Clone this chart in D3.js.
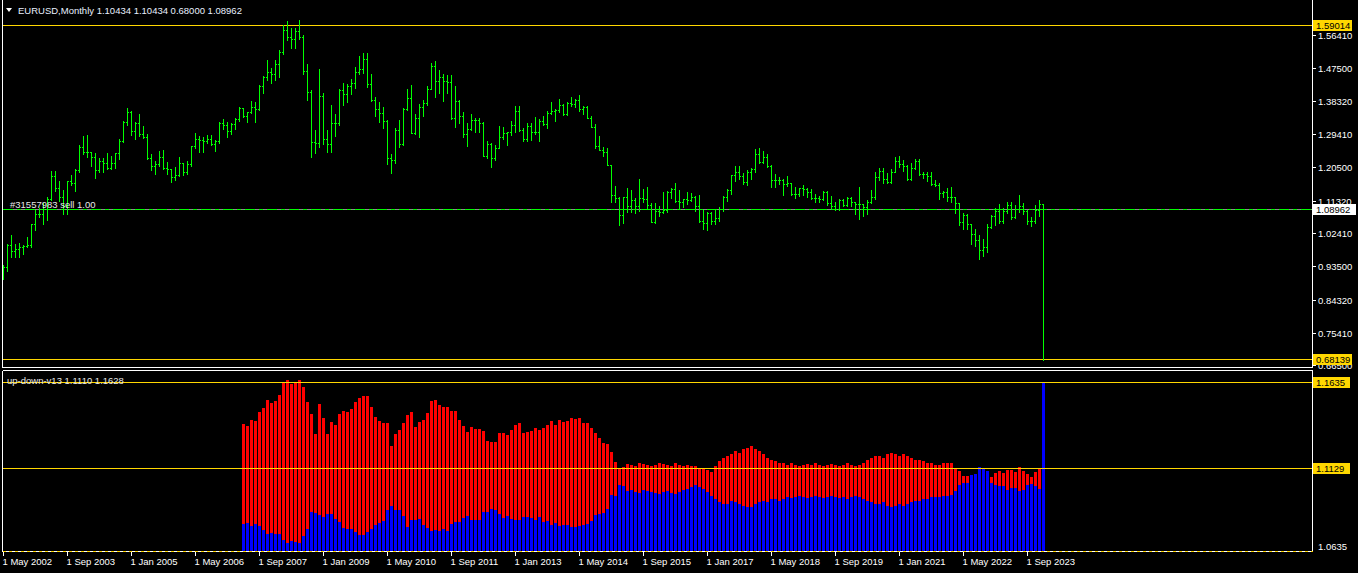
<!DOCTYPE html>
<html><head><meta charset="utf-8">
<script src="https://cdn.jsdelivr.net/npm/d3@7/dist/d3.min.js"></script>
<style>
html,body{margin:0;padding:0;background:#000;overflow:hidden}
svg{display:block}
text{font-family:"Liberation Sans",Arial,sans-serif;}
</style></head><body>
<svg id="c" width="1358" height="573"></svg>
<script>
// ---------- DATA ----------
const symbolTitle = "EURUSD,Monthly";
const titleValues = "1.10434 1.10434 0.68000 1.08962";
const indicatorTitle = "up-down-v13 1.1110 1.1628";
const orderText = "#31557983 sell 1.00";
const firstMonth = {year: 2002, month: 4}; // May 2002

// Monthly OHLC, May 2002 .. Jan 2024
const opens = [
 0.9015,0.9335,0.9915,0.9775,0.9810,0.9865,0.9890,0.9935,
 1.0485,1.0765,1.0780,1.0910,1.1170,1.1810,1.1490,1.1245,1.0985,1.1660,1.1610,1.1975,
 1.2595,1.2460,1.2460,1.2315,1.1970,1.2200,1.2170,1.2020,1.2170,1.2420,1.2770,1.3265,
 1.3555,1.3040,1.3250,1.2960,1.2870,1.2290,1.2090,1.2120,1.2330,1.2030,1.1990,1.1790,
 1.1840,1.2155,1.1920,1.2120,1.2620,1.2815,1.2780,1.2770,1.2810,1.2670,1.2760,1.3255,
 1.3195,1.3025,1.3225,1.3355,1.3650,1.3450,1.3540,1.3685,1.3635,1.4265,1.4490,1.4640,
 1.4590,1.4860,1.5185,1.5790,1.5590,1.5545,1.5750,1.5600,1.4675,1.4085,1.2730,1.2705,
 1.3970,1.2800,1.2670,1.3250,1.3235,1.4150,1.4035,1.4255,1.4340,1.4640,1.4715,1.5000,
 1.4320,1.3865,1.3625,1.3510,1.3295,1.2290,1.2235,1.3050,1.2680,1.3620,1.3935,1.2985,
 1.3370,1.3690,1.3800,1.4170,1.4810,1.4380,1.4500,1.4390,1.4360,1.3390,1.3850,1.3450,
 1.2960,1.3090,1.3320,1.3340,1.3240,1.2360,1.2665,1.2300,1.2575,1.2855,1.2970,1.2990,
 1.3190,1.3580,1.3060,1.2820,1.3170,1.3000,1.3010,1.3300,1.3220,1.3525,1.3580,1.3590,
 1.3750,1.3485,1.3800,1.3770,1.3870,1.3635,1.3690,1.3390,1.3130,1.2630,1.2525,1.2450,
 1.2100,1.1290,1.1195,1.0730,1.1220,1.0985,1.1145,1.0985,1.1210,1.1175,1.1005,1.0565,
 1.0860,1.0830,1.0870,1.1380,1.1450,1.1130,1.1105,1.1175,1.1155,1.1240,1.0980,1.0590,
 1.0520,1.0800,1.0575,1.0650,1.0895,1.1240,1.1425,1.1840,1.1910,1.1815,1.1645,1.1900,
 1.2000,1.2415,1.2195,1.2320,1.2080,1.1690,1.1685,1.1690,1.1600,1.1605,1.1310,1.1320,
 1.1465,1.1445,1.1370,1.1215,1.1215,1.1170,1.1370,1.1075,1.0985,1.0900,1.1150,1.1015,
 1.1215,1.1090,1.1030,1.1030,1.0955,1.1100,1.1235,1.1780,1.1935,1.1720,1.1645,1.1925,
 1.2215,1.2135,1.2075,1.1730,1.2020,1.2225,1.1860,1.1870,1.1810,1.1580,1.1560,1.1335,
 1.1370,1.1235,1.1220,1.1065,1.0545,1.0735,1.0485,1.0220,1.0055,0.9800,0.9880,1.0405,
 1.0705,1.0865,1.0575,1.0840,1.1020,1.0690,1.0910,1.1000,1.0845,1.0575,1.0575,1.0885,
 1.10434];
const highs = [
 0.9375,0.9950,1.0190,0.9955,0.9980,0.9935,1.0140,1.0500,
 1.0880,1.0935,1.1080,1.1230,1.1930,1.1935,1.1675,1.1430,1.1680,1.1840,1.1995,1.2650,
 1.2900,1.2930,1.2470,1.2430,1.2285,1.2300,1.2430,1.2345,1.2440,1.2815,1.3290,1.3665,
 1.3570,1.3280,1.3480,1.3170,1.2960,1.2390,1.2215,1.2475,1.2500,1.2180,1.2000,1.2040,
 1.2325,1.2160,1.2205,1.2625,1.2980,1.2880,1.2860,1.2910,1.2930,1.2775,1.3280,1.3365,
 1.3275,1.3250,1.3390,1.3680,1.3650,1.3545,1.3850,1.3815,1.4285,1.4530,1.4965,1.4755,
 1.4965,1.5240,1.5905,1.6020,1.5820,1.5845,1.6040,1.5630,1.4865,1.4150,1.3060,1.4720,
 1.4060,1.3050,1.3740,1.3485,1.4160,1.4340,1.4305,1.4445,1.4775,1.5065,1.5145,1.5140,
 1.4580,1.3960,1.3820,1.3690,1.3335,1.2410,1.3110,1.3335,1.3665,1.4160,1.4285,1.3500,
 1.3760,1.3860,1.4250,1.4880,1.4940,1.4700,1.4580,1.4550,1.4550,1.4250,1.3875,1.3550,
 1.3235,1.3490,1.3385,1.3380,1.3285,1.2745,1.2690,1.2640,1.3170,1.3140,1.3010,1.3310,
 1.3710,1.3710,1.3110,1.3245,1.3245,1.3415,1.3345,1.3450,1.3570,1.3830,1.3620,1.3895,
 1.3775,1.3825,1.3965,1.3905,1.3995,1.3700,1.3700,1.3445,1.3220,1.2885,1.2600,1.2570,
 1.2105,1.1535,1.1245,1.1225,1.1465,1.1435,1.1215,1.1715,1.1460,1.1495,1.1060,1.1060,
 1.0985,1.1375,1.1410,1.1465,1.1615,1.1430,1.1185,1.1365,1.1330,1.1255,1.1300,1.0875,
 1.0830,1.0830,1.0905,1.0950,1.1265,1.1445,1.1845,1.2070,1.2090,1.1880,1.1960,1.2025,
 1.2535,1.2555,1.2475,1.2415,1.2095,1.1850,1.1790,1.1735,1.1815,1.1625,1.1500,1.1485,
 1.1570,1.1490,1.1450,1.1325,1.1265,1.1410,1.1410,1.1250,1.1110,1.1180,1.1180,1.1240,
 1.1240,1.1095,1.1500,1.1035,1.1155,1.1425,1.1910,1.2010,1.2010,1.1880,1.2005,1.2310,
 1.2350,1.2245,1.2115,1.2150,1.2265,1.2255,1.1910,1.1910,1.1910,1.1695,1.1615,1.1385,
 1.1485,1.1495,1.1235,1.1075,1.0785,1.0775,1.0485,1.0370,1.0200,1.0095,1.0500,1.0735,
 1.0930,1.1035,1.0930,1.1095,1.1095,1.1010,1.1275,1.1065,1.0880,1.0695,1.1015,1.1140,
 1.10434];
const lows = [
 0.8995,0.9215,0.9605,0.9590,0.9610,0.9685,0.9860,0.9860,
 1.0335,1.0690,1.0500,1.0610,1.1150,1.1410,1.1130,1.0765,1.0760,1.1550,1.1410,1.1920,
 1.2390,1.2320,1.2090,1.1760,1.1900,1.1910,1.1990,1.2000,1.2010,1.2260,1.2730,1.3195,
 1.2930,1.2800,1.2880,1.2850,1.2280,1.1955,1.1870,1.2090,1.1985,1.1870,1.1640,1.1705,
 1.1800,1.1830,1.1860,1.2065,1.2580,1.2460,1.2455,1.2715,1.2660,1.2480,1.2700,1.3095,
 1.2865,1.2955,1.3075,1.3290,1.3405,1.3265,1.3525,1.3265,1.3590,1.4075,1.4430,1.4345,
 1.4410,1.4505,1.5125,1.5510,1.5285,1.5300,1.5545,1.4575,1.3880,1.2330,1.2425,1.2605,
 1.2665,1.2455,1.2460,1.2885,1.3180,1.3745,1.3830,1.4045,1.4205,1.4575,1.4615,1.4220,
 1.3855,1.3435,1.3265,1.3115,1.2140,1.1875,1.2155,1.2590,1.2645,1.3600,1.2970,1.2960,
 1.2860,1.3430,1.3750,1.4160,1.3965,1.4050,1.3840,1.4050,1.3360,1.3145,1.3240,1.2855,
 1.2625,1.3060,1.3000,1.3000,1.2355,1.2290,1.2040,1.2240,1.2560,1.2800,1.2660,1.2925,
 1.3000,1.3030,1.2750,1.2745,1.2795,1.2960,1.2755,1.3185,1.3105,1.3480,1.3295,1.3550,
 1.3475,1.3475,1.3705,1.3675,1.3585,1.3505,1.3370,1.3130,1.2570,1.2500,1.2360,1.2100,
 1.1100,1.1100,1.0460,1.0520,1.0820,1.0820,1.0810,1.0850,1.1105,1.0895,1.0560,1.0525,
 1.0710,1.0810,1.0820,1.1215,1.1100,1.0910,1.0950,1.1045,1.1120,1.0855,1.0565,1.0355,
 1.0340,1.0490,1.0495,1.0570,1.0840,1.1120,1.1310,1.1660,1.1715,1.1575,1.1555,1.1715,
 1.1915,1.2155,1.2155,1.2055,1.1510,1.1510,1.1575,1.1300,1.1525,1.1300,1.1215,1.1265,
 1.1290,1.1235,1.1175,1.1110,1.1105,1.1165,1.1025,1.0925,1.0880,1.0880,1.0980,1.0985,
 1.0990,1.0775,1.0635,1.0725,1.0765,1.1080,1.1185,1.1700,1.1610,1.1620,1.1605,1.1925,
 1.2055,1.1950,1.1705,1.1705,1.1985,1.1845,1.1750,1.1665,1.1565,1.1525,1.1185,1.1220,
 1.1120,1.1105,1.0805,1.0470,1.0350,1.0360,0.9950,0.9900,0.9535,0.9630,0.9730,1.0395,
 1.0480,1.0535,1.0515,1.0790,1.0635,1.0665,1.0835,1.0765,1.0490,1.0450,1.0515,1.0725,
 0.68000];
const closes = [
 0.9335,0.9915,0.9775,0.9810,0.9865,0.9890,0.9935,1.0485,
 1.0765,1.0780,1.0910,1.1170,1.1810,1.1490,1.1245,1.0985,1.1660,1.1610,1.1975,1.2595,
 1.2460,1.2460,1.2315,1.1970,1.2200,1.2170,1.2020,1.2170,1.2420,1.2770,1.3265,1.3555,
 1.3040,1.3250,1.2960,1.2870,1.2290,1.2090,1.2120,1.2330,1.2030,1.1990,1.1790,1.1840,
 1.2155,1.1920,1.2120,1.2620,1.2815,1.2780,1.2770,1.2810,1.2670,1.2760,1.3255,1.3195,
 1.3025,1.3225,1.3355,1.3650,1.3450,1.3540,1.3685,1.3635,1.4265,1.4490,1.4640,1.4590,
 1.4860,1.5185,1.5790,1.5590,1.5545,1.5750,1.5600,1.4675,1.4085,1.2730,1.2705,1.3970,
 1.2800,1.2670,1.3250,1.3235,1.4150,1.4035,1.4255,1.4340,1.4640,1.4715,1.5000,1.4320,
 1.3865,1.3625,1.3510,1.3295,1.2290,1.2235,1.3050,1.2680,1.3620,1.3935,1.2985,1.3370,
 1.3690,1.3800,1.4170,1.4810,1.4380,1.4500,1.4390,1.4360,1.3390,1.3850,1.3450,1.2960,
 1.3090,1.3320,1.3340,1.3240,1.2360,1.2665,1.2300,1.2575,1.2855,1.2970,1.2990,1.3190,
 1.3580,1.3060,1.2820,1.3170,1.3000,1.3010,1.3300,1.3220,1.3525,1.3580,1.3590,1.3750,
 1.3485,1.3800,1.3770,1.3870,1.3635,1.3690,1.3390,1.3130,1.2630,1.2525,1.2450,1.2100,
 1.1290,1.1195,1.0730,1.1220,1.0985,1.1145,1.0985,1.1210,1.1175,1.1005,1.0565,1.0860,
 1.0830,1.0870,1.1380,1.1450,1.1130,1.1105,1.1175,1.1155,1.1240,1.0980,1.0590,1.0520,
 1.0800,1.0575,1.0650,1.0895,1.1240,1.1425,1.1840,1.1910,1.1815,1.1645,1.1900,1.2000,
 1.2415,1.2195,1.2320,1.2080,1.1690,1.1685,1.1690,1.1600,1.1605,1.1310,1.1320,1.1465,
 1.1445,1.1370,1.1215,1.1215,1.1170,1.1370,1.1075,1.0985,1.0900,1.1150,1.1015,1.1215,
 1.1090,1.1030,1.1030,1.0955,1.1100,1.1235,1.1780,1.1935,1.1720,1.1645,1.1925,1.2215,
 1.2135,1.2075,1.1730,1.2020,1.2225,1.1860,1.1870,1.1810,1.1580,1.1560,1.1335,1.1370,
 1.1235,1.1220,1.1065,1.0545,1.0735,1.0485,1.0220,1.0055,0.9800,0.9880,1.0405,1.0705,
 1.0865,1.0575,1.0840,1.1020,1.0690,1.0910,1.1000,1.0845,1.0575,1.0575,1.0885,1.1043,
 1.08962];

// Indicator "up-down-v13": starts May 2007 (bar index 60)
const indicatorStart = 60;
const redValues = [
 1.1388,1.1376,1.1411,1.1405,1.1458,1.1481,1.1528,1.1511,1.1522,1.1557,1.1627,1.1645,1.1622,1.1627,1.1645,1.1604,
 1.1516,1.1446,1.1329,1.1505,1.1423,1.1329,1.1400,1.1382,1.1446,1.1464,1.1458,1.1476,1.1516,1.1540,1.1552,1.1552,
 1.1487,1.1429,1.1405,1.1394,1.1394,1.1259,1.1329,1.1353,1.1394,1.1441,1.1458,1.1370,1.1400,1.1411,1.1452,1.1522,
 1.1528,1.1499,1.1487,1.1487,1.1464,1.1464,1.1411,1.1376,1.1341,1.1370,1.1359,1.1359,1.1347,1.1289,1.1283,1.1283,
 1.1335,1.1335,1.1324,1.1353,1.1382,1.1394,1.1335,1.1341,1.1347,1.1365,1.1353,1.1365,1.1382,1.1405,1.1382,1.1411,
 1.1400,1.1405,1.1423,1.1417,1.1423,1.1394,1.1394,1.1365,1.1335,1.1306,1.1277,1.1271,1.1224,1.1166,1.1125,1.1137,
 1.1154,
 1.1150,1.1145,1.1160,1.1155,1.1150,1.1140,1.1150,1.1160,1.1155,1.1150,1.1145,1.1160,1.1150,1.1140,1.1150,1.1145,1.1140,1.1130,
 1.1130,1.1120,1.1110,1.1140,1.1170,1.1190,1.1200,1.1210,1.1230,1.1220,1.1240,
 1.1250,1.1260,1.1240,1.1230,1.1210,1.1190,1.1180,1.1170,1.1160,1.1160,
 1.1150,1.1160,1.1150,1.1145,1.1150,1.1155,1.1150,1.1160,1.1150,1.1145,1.1150,1.1155,1.1150,1.1145,1.1150,1.1160,1.1150,1.1145,1.1150,1.1160,
 1.1180,1.1190,1.1200,1.1200,1.1190,1.1210,1.1220,1.1210,1.1200,1.1210,1.1200,1.1190,1.1180,1.1180,1.1170,1.1160,1.1160,
 1.1150,1.1150,1.1160,1.1160,
 1.1158,1.1125,1.1113,1.1084,1.1084,1.1080,1.1085,1.1120,1.1110,1.1100,1.1078,1.1102,1.1113,1.1102,1.1121,1.1121,1.1109,1.1137,1.1113,1.1096,1.1078,1.1109,1.1125,1.1110];
const blueValues = [
 1.0806,1.0809,1.0794,1.0806,1.0794,1.0769,1.0747,1.0751,1.0747,1.0747,1.0710,1.0693,1.0704,1.0700,1.0693,1.0735,
 1.0774,1.0876,1.0868,1.0856,1.0845,1.0864,1.0864,1.0833,1.0817,1.0782,1.0774,1.0774,1.0759,1.0739,1.0739,1.0759,
 1.0774,1.0798,1.0809,1.0821,1.0887,1.0911,1.0887,1.0887,1.0852,1.0786,1.0829,1.0829,1.0833,1.0798,1.0782,1.0763,
 1.0771,1.0763,1.0774,1.0763,1.0806,1.0817,1.0817,1.0841,1.0852,1.0829,1.0829,1.0829,1.0876,1.0876,1.0891,1.0887,
 1.0864,1.0841,1.0852,1.0833,1.0829,1.0829,1.0845,1.0845,1.0841,1.0829,1.0845,1.0817,1.0821,1.0798,1.0809,1.0794,
 1.0798,1.0798,1.0786,1.0786,1.0794,1.0798,1.0806,1.0821,1.0856,1.0864,1.0868,1.0891,1.0973,1.0969,1.1032,1.1028,
 1.0996,
 1.1000,1.0990,1.0985,1.1000,1.0995,1.0990,1.0985,1.0980,1.0990,1.0995,1.0985,1.0980,1.0990,1.1000,1.1010,1.1020,1.1030,1.1020,
 1.1010,1.0990,1.0970,1.0950,1.0930,1.0920,1.0920,1.0940,1.0930,1.0920,1.0910,
 1.0900,1.0900,1.0920,1.0930,1.0940,1.0930,1.0950,1.0950,1.0940,1.0950,
 1.0960,1.0955,1.0960,1.0965,1.0960,1.0955,1.0960,1.0965,1.0960,1.0955,1.0960,1.0965,1.0960,1.0955,1.0960,1.0950,1.0960,1.0965,1.0960,1.0950,
 1.0940,1.0930,1.0920,1.0920,1.0930,1.0910,1.0900,1.0910,1.0920,1.0910,1.0920,1.0930,1.0940,1.0940,1.0950,1.0950,1.0960,
 1.0960,1.0960,1.0965,1.0970,
 1.0973,1.0996,1.1032,1.1043,1.1043,1.1090,1.1098,1.1135,1.1125,1.1113,1.1043,1.1032,1.1028,1.1028,1.1004,1.1016,1.1016,1.0996,1.1004,1.1032,1.1039,1.1028,1.1008,1.1628];

const priceTicks = [1.56410,1.47500,1.38320,1.29410,1.20500,1.11320,1.02410,0.93500,0.84320,0.75410,0.66500];
const hLevels = [1.59014, 0.68139];
const bidPrice = 1.08962;
const indLevels = [1.1635, 1.1129];
const indBottomLabel = "1.0635";
const timeLabelEvery = 16;
const monthNames = ["Jan","Feb","Mar","Apr","May","Jun","Jul","Aug","Sep","Oct","Nov","Dec"];

// ---------- CHART ----------
const svg = d3.select("#c");
const W = 1358, H = 573;
const GREEN = "#00ff00", GOLD = "#ffd700", AXIS = "#ffffff";
const mainTop = 0, mainBottom = 367.5, indTop = 370.5, indBottom = 551.5, left = 2.5, right = 1312.5;

svg.append("rect").attr("width", W).attr("height", H).attr("fill", "#000");

const n = closes.length;
const months = d3.range(n).map(i => {
  const m = firstMonth.month + i;
  return `1 ${monthNames[m % 12]} ${firstMonth.year + Math.floor(m / 12)}`;
});
const x = d3.scaleBand().domain(months).range([1.5, 1.5 + 4 * n]).padding(0);
const cx = i => x(months[i]) + 1.5; // pixel column of bar center

const y = d3.scaleLinear().domain([0.75410, 1.56410]).range([332.7, 35]);
const yi = d3.scaleLinear().domain([1.1129, 1.1635]).range([468.3, 381.7]);

svg.append("clipPath").attr("id", "mainClip").append("rect")
  .attr("x", 3).attr("y", 0).attr("width", 1309).attr("height", 367);
svg.append("clipPath").attr("id", "indClip").append("rect")
  .attr("x", 3).attr("y", 371).attr("width", 1309).attr("height", 180);

// --- main window ---
const gm = svg.append("g").attr("clip-path", "url(#mainClip)").attr("shape-rendering", "crispEdges");

gm.selectAll("line.lvl").data(hLevels).join("line")
  .attr("x1", left).attr("x2", right)
  .attr("y1", d => Math.round(y(d)) + 0.5).attr("y2", d => Math.round(y(d)) + 0.5)
  .attr("stroke", GOLD).attr("stroke-width", 1);

const yb = Math.round(y(bidPrice)) + 0.5;
gm.append("line").attr("x1", left).attr("x2", right).attr("y1", yb).attr("y2", yb)
  .attr("stroke", "#8c8c8c").attr("stroke-width", 1);
gm.append("line").attr("x1", left).attr("x2", right).attr("y1", yb).attr("y2", yb)
  .attr("stroke", GREEN).attr("stroke-width", 1).attr("stroke-dasharray", "10,4,4,4");

// OHLC bars
const bars = gm.append("g").attr("fill", GREEN);
d3.range(n).forEach(i => {
  const c = cx(i);
  const yh = Math.round(y(highs[i])), yl = Math.round(y(lows[i]));
  bars.append("rect").attr("x", c).attr("y", yh).attr("width", 1).attr("height", Math.max(1, yl - yh + 1));
  bars.append("rect").attr("x", c - 1).attr("y", Math.round(y(opens[i]))).attr("width", 1).attr("height", 1);
  bars.append("rect").attr("x", c + 1).attr("y", Math.round(y(closes[i]))).attr("width", 1).attr("height", 1);
});

svg.append("text").attr("x", 10).attr("y", 208).attr("fill", "#e8e8e8")
  .attr("font-size", "9.5px").text(orderText);

svg.append("path").attr("d", "M6,8 L12,8 L9,12 Z").attr("fill", "#fff");
svg.append("text").attr("x", 18).attr("y", 14).attr("fill", "#e8f0ff").attr("font-size", "9.5px")
  .text(symbolTitle + "  " + titleValues);

// frames
const fr = svg.append("g").attr("fill", "none").attr("stroke", AXIS).attr("stroke-width", 1).attr("shape-rendering", "crispEdges");
fr.append("path").attr("d", `M${left},${mainTop} V${mainBottom} H${right} V${mainTop}`);
fr.append("path").attr("d", `M${left},${indTop} H${right} V${indBottom} M${left},${indTop} V${indBottom}`);
fr.append("line").attr("x1", left).attr("x2", right).attr("y1", indBottom).attr("y2", indBottom);
svg.append("line").attr("x1", left).attr("x2", right).attr("y1", indBottom).attr("y2", indBottom)
  .attr("stroke", GOLD).attr("stroke-dasharray", "3,3").attr("shape-rendering", "crispEdges");

// price axis
const pa = svg.append("g").attr("font-size", "9.5px").attr("fill", AXIS);
priceTicks.forEach(p => {
  const yy = Math.round(y(p)) + 0.5;
  pa.append("line").attr("x1", 1313).attr("x2", 1316).attr("y1", yy).attr("y2", yy)
    .attr("stroke", AXIS).attr("shape-rendering", "crispEdges");
  pa.append("text").attr("x", 1318).attr("y", yy).attr("dy", "0.35em").text(p.toFixed(5));
});
function boxLabel(yy, txt, bg, w) {
  svg.append("rect").attr("x", 1313).attr("y", Math.round(yy) - 5).attr("width", w).attr("height", 11).attr("fill", bg);
  svg.append("text").attr("x", 1316).attr("y", Math.round(yy) + 0.5).attr("dy", "0.35em")
    .attr("font-size", "9.5px").attr("fill", "#000").text(txt);
}
hLevels.forEach(p => boxLabel(y(p), p.toFixed(5), GOLD, 39));
boxLabel(y(bidPrice), bidPrice.toFixed(5), "#ffffff", 43);

// --- indicator window ---
const gi = svg.append("g").attr("clip-path", "url(#indClip)").attr("shape-rendering", "crispEdges");
const indMonths = months.slice(indicatorStart);
gi.selectAll("rect.red").data(redValues).join("rect").attr("class", "red")
  .attr("x", (d, k) => x(indMonths[k]) + 0.5).attr("width", 3)
  .attr("y", d => Math.round(yi(d))).attr("height", d => 560 - Math.round(yi(d)))
  .attr("fill", "#ff0000");
gi.selectAll("rect.blue").data(blueValues).join("rect").attr("class", "blue")
  .attr("x", (d, k) => x(indMonths[k]) + 0.5).attr("width", 3)
  .attr("y", d => Math.round(yi(d))).attr("height", d => 560 - Math.round(yi(d)))
  .attr("fill", "#0000ff");
gi.selectAll("line.il").data(indLevels).join("line")
  .attr("x1", left).attr("x2", right)
  .attr("y1", d => Math.round(yi(d)) + 0.5).attr("y2", d => Math.round(yi(d)) + 0.5)
  .attr("stroke", GOLD);
svg.append("text").attr("x", 7).attr("y", 384).attr("fill", "#e8e8e8").attr("font-size", "9.5px").text(indicatorTitle);
indLevels.forEach(p => boxLabel(yi(p), p.toFixed(4), GOLD, 37));
svg.append("text").attr("x", 1318).attr("y", 547).attr("dy", "0.35em").attr("font-size", "9.5px").attr("fill", AXIS).text(indBottomLabel);

// --- time axis ---
const ta = svg.append("g").attr("font-size", "9.5px").attr("fill", AXIS);
d3.range(0, n, timeLabelEvery).forEach(i => {
  const c = cx(i) + 0.5;
  ta.append("line").attr("x1", c).attr("x2", c).attr("y1", 552).attr("y2", 556)
    .attr("stroke", AXIS).attr("shape-rendering", "crispEdges");
  ta.append("text").attr("x", c - 1).attr("y", 565).text(months[i]);
});
</script>
</body></html>
